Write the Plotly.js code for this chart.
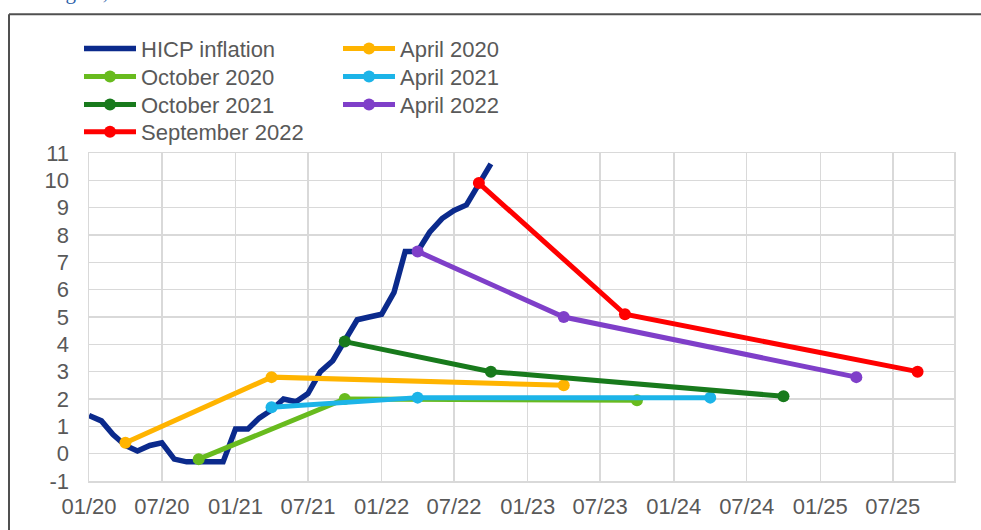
<!DOCTYPE html>
<html>
<head>
<meta charset="utf-8">
<script src="https://cdn.plot.ly/plotly-3.0.1.min.js"></script>
<style>
  html, body { margin: 0; padding: 0; background: #ffffff; }
  #chart { width: 981px; height: 530px; }
</style>
</head>
<body>
<div id="chart"></div>
<script>
// Euro area HICP inflation, monthly (% y-o-y)
const hicpMonths = [
  '2020-01-01','2020-02-01','2020-03-01','2020-04-01','2020-05-01','2020-06-01',
  '2020-07-01','2020-08-01','2020-09-01','2020-10-01','2020-11-01','2020-12-01',
  '2021-01-01','2021-02-01','2021-03-01','2021-04-01','2021-05-01','2021-06-01',
  '2021-07-01','2021-08-01','2021-09-01','2021-10-01','2021-11-01','2021-12-01',
  '2022-01-01','2022-02-01','2022-03-01','2022-04-01','2022-05-01','2022-06-01',
  '2022-07-01','2022-08-01','2022-09-01','2022-10-01'
];
const hicpValues = [
  1.4, 1.2, 0.7, 0.3, 0.1, 0.3, 0.4, -0.2, -0.3, -0.3, -0.3, -0.3,
  0.9, 0.9, 1.3, 1.6, 2.0, 1.9, 2.2, 3.0, 3.4, 4.1, 4.9, 5.0,
  5.1, 5.9, 7.4, 7.4, 8.1, 8.6, 8.9, 9.1, 9.9, 10.6
];

// Projection vintages: starting point, one year ahead, three years ahead
const apr2020Dates = ['2020-04-01', '2021-04-01', '2023-04-01'];
const apr2020Values = [0.4, 2.8, 2.5];
const oct2020Dates = ['2020-10-01', '2021-10-01', '2023-10-01'];
const oct2020Values = [-0.2, 2.0, 1.95];
const apr2021Dates = ['2021-04-01', '2022-04-01', '2024-04-01'];
const apr2021Values = [1.7, 2.05, 2.05];
const oct2021Dates = ['2021-10-01', '2022-10-01', '2024-10-01'];
const oct2021Values = [4.1, 3.0, 2.1];
const apr2022Dates = ['2022-04-01', '2023-04-01', '2025-04-01'];
const apr2022Values = [7.4, 5.0, 2.8];
const sep2022Dates = ['2022-09-01', '2023-09-01', '2025-09-01'];
const sep2022Values = [9.9, 5.1, 3.0];

const yTicks = [-1, 0, 1, 2, 3, 4, 5, 6, 7, 8, 9, 10, 11];
const yTickLabels = ['-1', '0', '1', '2', '3', '4', '5', '6', '7', '8', '9', '10', '11'];

const textColor = '#595959';
const gridColor = '#d9d9d9';
const fontFamily = '"Liberation Sans", Arial, sans-serif';

// plot area in pixels: x 89..954, y 152.5..481
const L = 89, R = 954, T = 152.5, B = 481;
const px = X => (X - L) / (R - L);
const py = Y => (B - Y) / (B - T);

// one single-entry legend per key, laid out in two columns
const keyCol = [79, 338];
const keyRowTop = [27, 55, 83, 110.5];

function vintage(name, x, y, color, legendId) {
  return {
    type: 'scatter', mode: 'lines+markers', name: name,
    x: x, y: y,
    line: { color: color, width: 5 },
    marker: { color: color, size: 12 },
    legend: legendId, hoverinfo: 'skip'
  };
}

const traces = [
  {
    type: 'scatter', mode: 'lines', name: 'HICP inflation',
    x: hicpMonths, y: hicpValues,
    line: { color: '#0b2a8c', width: 5.5 },
    legend: 'legend', hoverinfo: 'skip'
  },
  vintage('April 2020', apr2020Dates, apr2020Values, '#ffb400', 'legend2'),
  vintage('October 2020', oct2020Dates, oct2020Values, '#68bb1e', 'legend3'),
  vintage('April 2021', apr2021Dates, apr2021Values, '#1cb4e8', 'legend4'),
  vintage('October 2021', oct2021Dates, oct2021Values, '#187a1c', 'legend5'),
  vintage('April 2022', apr2022Dates, apr2022Values, '#7f3fc9', 'legend6'),
  vintage('September 2022', sep2022Dates, sep2022Values, '#ff0000', 'legend7')
];

function key(col, row) {
  return {
    xref: 'paper', yref: 'paper',
    x: px(keyCol[col]), y: py(keyRowTop[row]),
    xanchor: 'left', yanchor: 'top',
    orientation: 'v',
    bgcolor: 'rgba(0,0,0,0)',
    borderwidth: 0,
    itemwidth: 52,
    font: { family: fontFamily, size: 22, color: textColor }
  };
}

const layout = {
  width: 981, height: 530,
  margin: { l: L, r: 981 - R, t: T, b: 530 - B, pad: 0, autoexpand: false },
  paper_bgcolor: '#ffffff',
  plot_bgcolor: '#ffffff',
  font: { family: fontFamily, size: 22, color: textColor },
  showlegend: true,
  legend: key(0, 0),
  legend2: key(1, 0),
  legend3: key(0, 1),
  legend4: key(1, 1),
  legend5: key(0, 2),
  legend6: key(1, 2),
  legend7: key(0, 3),
  xaxis: {
    type: 'date',
    range: ['2020-01-01', '2025-12-01'],
    tick0: '2020-01-01', dtick: 'M6', tickformat: '%m/%y',
    tickangle: 0,
    showgrid: true, gridcolor: gridColor, gridwidth: 1.5,
    showline: true, linecolor: gridColor, linewidth: 1.5, mirror: true,
    ticks: '', ticklabelstandoff: 5,
    tickfont: { family: fontFamily, size: 22, color: textColor },
    zeroline: false, fixedrange: true
  },
  yaxis: {
    range: [-1, 11],
    tickmode: 'array', tickvals: yTicks, ticktext: yTickLabels,
    showgrid: true, gridcolor: gridColor, gridwidth: 1.5,
    showline: true, linecolor: gridColor, linewidth: 1.5, mirror: true,
    ticks: '', ticklabelstandoff: 14,
    tickfont: { family: fontFamily, size: 22, color: textColor },
    zeroline: false, fixedrange: true
  },
  shapes: [
    // dark frame round the figure (top and left edges)
    { type: 'line', xref: 'paper', yref: 'paper', x0: px(9), x1: px(990), y0: py(13.5), y1: py(13.5),
      line: { color: '#505050', width: 2 } },
    { type: 'line', xref: 'paper', yref: 'paper', x0: px(9), x1: px(9), y0: py(13.5), y1: py(540),
      line: { color: '#505050', width: 2 } }
  ],
  annotations: [
    { text: 'Figure,', xref: 'paper', yref: 'paper', x: px(46), y: py(5),
      xanchor: 'left', yanchor: 'bottom', showarrow: false,
      font: { family: '"Liberation Serif", "DejaVu Serif", serif', size: 21, color: '#2a5ea8' } }
  ]
};

Plotly.newPlot('chart', traces, layout, { displayModeBar: false, staticPlot: true });
</script>
</body>
</html>
